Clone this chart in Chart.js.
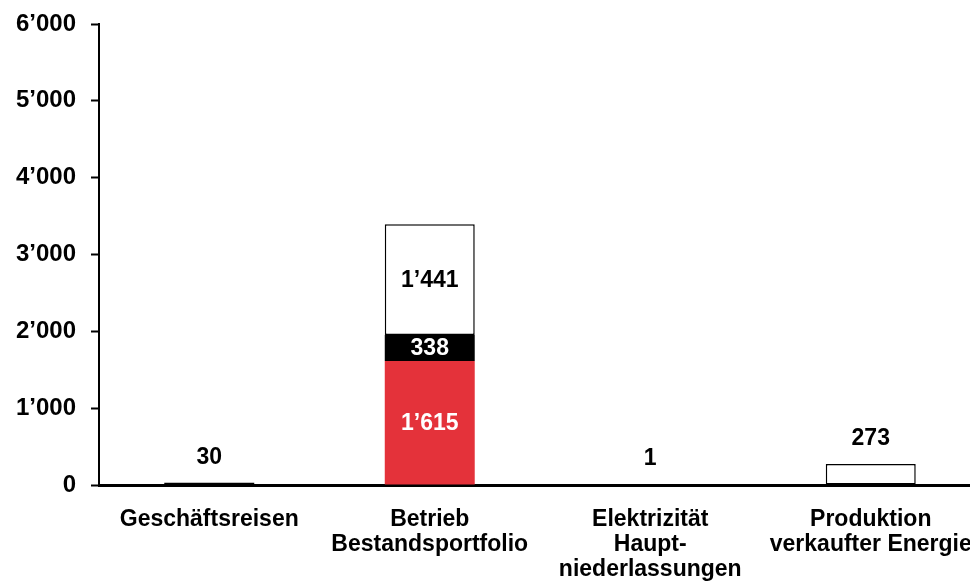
<!DOCTYPE html>
<html>
<head>
<meta charset="utf-8">
<script src="https://cdn.jsdelivr.net/npm/chart.js@4"></script>
<style>
  html, body { margin: 0; padding: 0; background: #fff; overflow: hidden; }
  canvas { display: block; }
</style>
</head>
<body>
<canvas id="chart" width="981" height="588"></canvas>
<script>
// Emissionen nach Kategorie (tCO2e)
const categories = [
  'Geschäftsreisen',
  ['Betrieb', 'Bestandsportfolio'],
  ['Elektrizität', 'Haupt-', 'niederlassungen'],
  ['Produktion', 'verkaufter Energie']
];
const redValues   = [null, 1615, null, null];
const blackValues = [30, 338, null, null];
const whiteValues = [null, 1441, 1, 273];
const yTicks = [0, 1000, 2000, 3000, 4000, 5000, 6000];

const FONT = 'Liberation Sans, Arial, Helvetica, sans-serif';

function fmt(v) {
  return String(v).replace(/\B(?=(\d{3})+(?!\d))/g, '\u2019');
}

// Value labels: inside the segments for stacked columns, above the column otherwise
const valueLabels = {
  id: 'valueLabels',
  afterDatasetsDraw(chart) {
    const ctx = chart.ctx;
    const ds = chart.data.datasets;
    ctx.save();
    ctx.font = 'bold 23px ' + FONT;
    ctx.textAlign = 'center';
    for (let i = 0; i < chart.data.labels.length; i++) {
      const present = ds.map((d, k) => ({ k, v: d.data[i] })).filter(o => o.v !== null);
      if (present.length > 1) {
        present.forEach(o => {
          const el = chart.getDatasetMeta(o.k).data[i];
          ctx.fillStyle = ds[o.k].labelColor;
          ctx.textBaseline = 'middle';
          ctx.fillText(fmt(o.v), el.x, (el.y + el.base) / 2 + 1);
        });
      } else if (present.length === 1) {
        const o = present[0];
        const el = chart.getDatasetMeta(o.k).data[i];
        ctx.fillStyle = '#000';
        ctx.textBaseline = 'bottom';
        ctx.fillText(fmt(o.v), el.x, Math.min(el.y, el.base) - 14);
      }
    }
    ctx.restore();
  }
};

new Chart(document.getElementById('chart'), {
  type: 'bar',
  data: {
    labels: categories,
    datasets: [
      { data: redValues, backgroundColor: '#e4323a', borderWidth: 0, labelColor: '#fff' },
      { data: blackValues, backgroundColor: '#000', borderWidth: 0, labelColor: '#fff' },
      { data: whiteValues, backgroundColor: '#fff', borderColor: '#000', borderWidth: 1.5,
        borderSkipped: false, labelColor: '#000' }
    ]
  },
  options: {
    responsive: false,
    animation: false,
    devicePixelRatio: 1,
    layout: { padding: 0 },
    datasets: { bar: { barPercentage: 0.408, categoryPercentage: 1 } },
    plugins: { legend: { display: false }, tooltip: { enabled: false } },
    scales: {
      x: {
        stacked: true,
        afterFit(scale) {
          scale.height = 103;
          scale.paddingLeft = 0;
          scale.paddingRight = 0;
        },
        grid: { display: false, drawTicks: false },
        border: { display: true, color: '#000', width: 3 },
        ticks: {
          color: '#000',
          padding: 22,
          maxRotation: 0,
          autoSkip: false,
          font: { family: FONT, size: 23, weight: 'bold', lineHeight: 1.087 }
        }
      },
      y: {
        stacked: true,
        min: 0,
        max: 6000,
        afterFit(scale) {
          scale.width = 99;
          scale.paddingTop = 24;
          scale.paddingBottom = 0;
        },
        afterBuildTicks(scale) { scale.ticks = yTicks.map(v => ({ value: v })); },
        grid: { display: true, drawOnChartArea: false, drawTicks: true, tickLength: 8, tickWidth: 2, tickColor: '#000' },
        border: { display: true, color: '#000', width: 2 },
        ticks: {
          color: '#000',
          padding: 15,
          callback: v => fmt(v),
          font: { family: FONT, size: 24, weight: 'bold' }
        }
      }
    }
  },
  plugins: [valueLabels]
});
</script>
</body>
</html>
